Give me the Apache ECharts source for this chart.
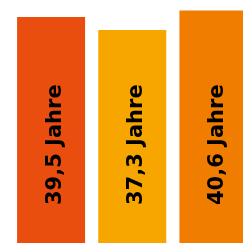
<!DOCTYPE html>
<html>
<head>
<meta charset="utf-8">
<script src="https://cdn.jsdelivr.net/npm/echarts@6/dist/echarts.min.js"></script>
<style>
html,body{margin:0;padding:0;background:#fff;overflow:hidden;width:243px;height:243px;}
#c{position:absolute;left:0;top:0;width:254px;height:250px;}
</style>
</head>
<body>
<div id="c"></div>
<script>
const categories = ['A', 'B', 'C'];
const values = [39.5, 37.3, 40.6];
const labels = ['39,5 Jahre', '37,3 Jahre', '40,6 Jahre'];
const colors = ['#E94E0F', '#F7A600', '#F07D00'];

const chart = echarts.init(document.getElementById('c'), null, {renderer: 'canvas'});
chart.setOption({
  animation: false,
  grid: {left: 10.5, right: 0, top: 0, bottom: 0, containLabel: false},
  xAxis: {type: 'category', data: categories, show: false},
  yAxis: {type: 'value', min: 0, max: 42.4, show: false},
  series: [{
    type: 'bar',
    barWidth: 68,
    data: values.map((v, i) => ({value: v, itemStyle: {color: colors[i]}})),
    label: {
      show: true,
      position: 'insideBottom',
      distance: 45,
      rotate: 90,
      align: 'left',
      verticalAlign: 'middle',
      offset: [0, 4],
      formatter: p => labels[p.dataIndex],
      fontFamily: 'DejaVu Sans',
      fontWeight: 'bold',
      fontSize: 21,
      color: '#000'
    }
  }]
});
</script>
</body>
</html>
